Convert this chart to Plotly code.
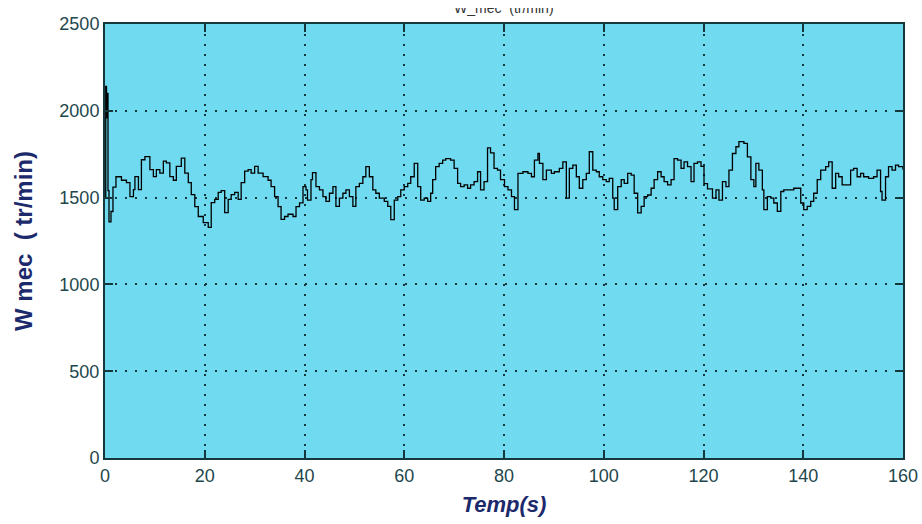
import plotly.graph_objects as go

# temps (s) et vitesse mecanique (tr/min)
temps = [
    0, 0.15, 0.3, 0.45, 0.6, 0.8, 1.2, 1.6, 2.2, 2.8,
    3.3, 4.3, 5.0, 5.7, 6.0, 6.7, 7.3, 8.0, 9.0, 9.7,
    10.3, 11.0, 11.7, 12.3, 13.0, 13.7, 14.3, 15.3, 16.0, 16.7,
    17.3, 18.0, 18.7, 19.7, 20.7, 21.3, 22.0, 22.7, 23.3, 24.0,
    24.7, 25.3, 26.0, 26.7, 27.3, 28.0, 28.7, 29.3, 30.0, 30.7,
    31.7, 32.7, 33.3, 34.0, 34.7, 35.3, 36.0, 36.7, 37.7, 38.3,
    39.0, 39.7, 40.3, 40.6, 41.3, 41.6, 42.3, 43.0, 43.7, 44.3,
    45.0, 45.7, 46.3, 47.0, 47.7, 48.3, 49.0, 49.7, 50.3, 51.0,
    51.7, 52.3, 53.0, 53.7, 54.3, 55.0, 56.0, 56.7, 57.3, 58.0,
    58.7, 59.3, 60.0, 60.7, 61.3, 62.0, 62.7, 63.3, 64.0, 64.7,
    65.3, 65.7, 66.3, 67.0, 67.7, 68.3, 69.3, 70.0, 70.7, 71.3,
    72.0, 72.7, 73.3, 74.0, 74.7, 75.3, 76.0, 76.7, 77.3, 78.0,
    78.7, 79.3, 80.1, 80.8, 81.5, 82.1, 82.8, 83.8, 84.8, 85.5,
    86.1, 86.8, 87.1, 87.8, 88.5, 89.5, 90.1, 91.1, 91.8, 92.5,
    93.1, 93.8, 94.5, 95.1, 95.8, 96.5, 97.1, 97.8, 98.5, 99.1,
    99.8, 100.5, 101.1, 101.8, 102.1, 102.8, 103.5, 104.1, 104.8, 105.5,
    106.1, 106.8, 107.5, 108.1, 108.8, 109.5, 110.1, 110.8, 111.5, 112.1,
    112.8, 113.5, 114.1, 114.8, 115.5, 116.1, 116.8, 117.5, 118.1, 118.8,
    119.5, 120.1, 120.8, 121.8, 122.5, 123.1, 123.8, 124.5, 125.1, 125.8,
    126.5, 127.1, 128.1, 128.8, 129.5, 130.1, 130.5, 131.1, 131.8, 132.1,
    132.8, 133.5, 134.1, 134.8, 135.5, 136.1, 137.1, 138.1, 138.8, 139.5,
    140.1, 140.8, 141.5, 142.1, 142.8, 143.5, 144.5, 145.1, 145.8, 146.5,
    147.1, 147.8, 148.8, 149.5, 150.1, 150.8, 151.5, 152.1, 153.1, 154.1,
    154.8, 155.5, 155.8, 156.5, 157.1, 157.8, 158.5, 159.1, 160,
]
w_mec = [
    1500, 2140, 1960, 2100, 1540, 1360, 1420, 1560, 1620, 1620,
    1600, 1586, 1506, 1546, 1621, 1546, 1718, 1736, 1661, 1621,
    1661, 1641, 1710, 1700, 1621, 1600, 1680, 1727, 1641, 1586,
    1517, 1448, 1391, 1356, 1328, 1471, 1490, 1530, 1540, 1414,
    1490, 1517, 1530, 1490, 1586, 1652, 1661, 1641, 1680, 1641,
    1621, 1600, 1563, 1506, 1448, 1375, 1391, 1404, 1391, 1448,
    1470, 1563, 1544, 1486, 1603, 1644, 1563, 1544, 1506, 1478,
    1525, 1563, 1450, 1497, 1525, 1544, 1506, 1450, 1563, 1582,
    1620, 1678, 1620, 1544, 1525, 1497, 1478, 1450, 1373, 1486,
    1506, 1544, 1563, 1582, 1620, 1697, 1563, 1486, 1497, 1478,
    1525, 1603, 1678, 1697, 1716, 1725, 1716, 1668, 1582, 1563,
    1573, 1554, 1573, 1592, 1649, 1544, 1592, 1787, 1758, 1668,
    1658, 1603, 1563, 1544, 1506, 1431, 1640, 1649, 1640, 1620,
    1716, 1754, 1697, 1603, 1658, 1640, 1649, 1668, 1706, 1497,
    1668, 1687, 1620, 1554, 1603, 1640, 1764, 1658, 1649, 1620,
    1603, 1592, 1611, 1497, 1431, 1563, 1603, 1582, 1640, 1630,
    1525, 1412, 1450, 1506, 1515, 1554, 1603, 1649, 1620, 1592,
    1573, 1603, 1725, 1716, 1668, 1706, 1678, 1592, 1697, 1706,
    1680, 1580, 1550, 1497, 1544, 1486, 1592, 1563, 1658, 1754,
    1793, 1822, 1812, 1735, 1603, 1563, 1697, 1658, 1544, 1431,
    1506, 1497, 1469, 1421, 1535, 1544, 1544, 1554, 1554, 1469,
    1431, 1450, 1478, 1525, 1603, 1658, 1678, 1706, 1554, 1640,
    1620, 1573, 1573, 1658, 1668, 1620, 1640, 1620, 1611, 1620,
    1658, 1535, 1486, 1620, 1678, 1658, 1687, 1678, 1660,
]

x_ticks = [0, 20, 40, 60, 80, 100, 120, 140, 160]
y_ticks = [0, 500, 1000, 1500, 2000, 2500]

axe_col = "#16383d"
lab_col = "#1d474c"
titre_col = "#1c2a6c"

fig = go.Figure(go.Scatter(x=temps, y=w_mec, mode="lines", line_shape="hv",
                           line=dict(color="black", width=1.3), showlegend=False))

axe = dict(showline=True, linecolor=axe_col, linewidth=2, mirror="ticks",
           ticks="inside", ticklen=8, tickwidth=1.5, tickcolor=axe_col,
           showgrid=True, gridcolor=axe_col, gridwidth=1.5, griddash="2px,8px",
           zeroline=False, tickfont=dict(family="Liberation Sans, Arial", size=18, color=lab_col))

fig.update_xaxes(axe, range=[0, 160], tickvals=x_ticks,
                 title=dict(text="<b><i>Temp(s)</i></b>", standoff=12,
                            font=dict(family="Liberation Sans, Arial", size=22, color=titre_col)))
fig.update_yaxes(axe, range=[0, 2500], tickvals=y_ticks,
                 title=dict(text="<b>W mec  ( tr/min)</b>", standoff=20,
                            font=dict(family="Liberation Sans, Arial", size=24, color=titre_col)))

# titre d'origine, coupe en haut de l'image
fig.add_annotation(text="W_mec  (tr/min)", xref="paper", yref="paper", x=0.5,
                   y=1, yshift=16, yanchor="middle", showarrow=False,
                   font=dict(family="Liberation Sans, Arial", size=14, color="#333333"))

# marge de page : 8 px en haut seulement
fig.update_layout(width=922, height=516, plot_bgcolor="#70daf0", paper_bgcolor="white",
                  margin=dict(l=105, r=19, t=16, b=66, autoexpand=False))

fig.write_html("out.html", post_script="document.body.style.margin='8px 0 0 0';")
